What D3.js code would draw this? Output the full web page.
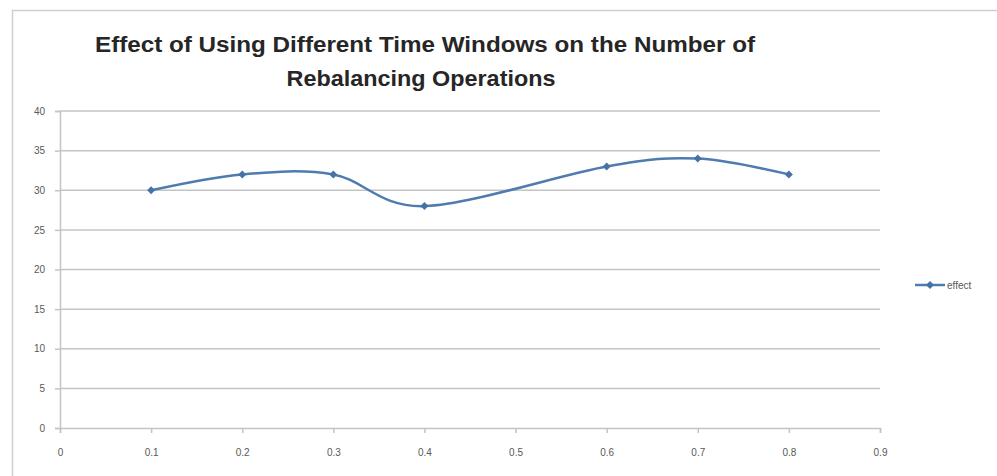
<!DOCTYPE html>
<html>
<head>
<meta charset="utf-8">
<script src="https://cdn.jsdelivr.net/npm/d3@7"></script>
<style>
  html, body { margin: 0; padding: 0; background: #fff; }
  svg { display: block; }
</style>
</head>
<body>
<svg id="chart" width="997" height="476"></svg>
<script>
// Time window (x) and number of rebalancing operations (y)
const windows = [0.1, 0.2, 0.3, 0.4, 0.6, 0.7, 0.8];
const operations = [30, 32, 32, 28, 33, 34, 32];
const seriesName = "effect";
const xTicks = [0, 0.1, 0.2, 0.3, 0.4, 0.5, 0.6, 0.7, 0.8, 0.9];
const yTicks = [0, 5, 10, 15, 20, 25, 30, 35, 40];
const titleLines = ["Effect of Using Different Time Windows on the Number of", "Rebalancing Operations"];

const svg = d3.select("#chart");
const W = 997, H = 476;
const plot = { left: 60, right: 880, top: 111, bottom: 428 };

const lineColor = "#4f7bae";
const markerColor = "#4672a6";
const gridColor = "#c4c4c4";
const labelColor = "#595959";
const labelFont = "'Liberation Sans Narrow', 'Liberation Sans', Arial, sans-serif";

// Chart frame
svg.append("rect")
  .attr("x", 12.5).attr("y", 10.5)
  .attr("width", W + 20).attr("height", H + 20)
  .attr("fill", "#fff").attr("stroke", "#d0d0d0").attr("stroke-width", 1.5);

const x = d3.scaleLinear().domain([0, 0.9]).range([plot.left, plot.right]);
const y = d3.scaleLinear().domain([0, 40]).range([plot.bottom, plot.top]);

// Horizontal gridlines
svg.append("g")
  .selectAll("line")
  .data(yTicks.filter(d => d > 0))
  .join("line")
  .attr("x1", plot.left).attr("x2", plot.right)
  .attr("y1", d => y(d)).attr("y2", d => y(d))
  .attr("stroke", gridColor).attr("stroke-width", 1.5);

// Y axis
const yAxis = svg.append("g")
  .attr("transform", `translate(${plot.left},0)`)
  .call(d3.axisLeft(y).tickValues(yTicks).tickSize(5).tickPadding(10).tickFormat(d3.format("d")));
yAxis.select(".domain").attr("stroke", gridColor).attr("stroke-width", 1.5);
yAxis.selectAll(".tick line").attr("stroke", gridColor).attr("stroke-width", 1.5);
yAxis.selectAll(".tick text")
  .attr("fill", labelColor)
  .style("font-family", labelFont)
  .style("font-size", "10px");

// X axis
const xAxis = svg.append("g")
  .attr("transform", `translate(0,${plot.bottom})`)
  .call(d3.axisBottom(x).tickValues(xTicks).tickSize(5).tickPadding(16).tickFormat(d => String(d)));
xAxis.select(".domain").attr("stroke", gridColor).attr("stroke-width", 1.5);
xAxis.selectAll(".tick line").attr("stroke", gridColor).attr("stroke-width", 1.5);
xAxis.selectAll(".tick text")
  .attr("fill", labelColor)
  .style("font-family", labelFont)
  .style("font-size", "10px");

// Smoothed series line
const pts = windows.map((w, i) => [w, operations[i]]);
svg.append("path")
  .datum(pts)
  .attr("d", d3.line().x(d => x(d[0])).y(d => y(d[1])).curve(d3.curveCardinal.tension(0)))
  .attr("fill", "none")
  .attr("stroke", lineColor)
  .attr("stroke-width", 2.5)
  .attr("stroke-linecap", "round");

// Diamond markers (square turned 45 degrees)
const diamondPath = "M0,-4L4,0L0,4L-4,0Z";
svg.append("g")
  .selectAll("path")
  .data(pts)
  .join("path")
  .attr("transform", d => `translate(${x(d[0])},${y(d[1])})`)
  .attr("d", diamondPath)
  .attr("fill", markerColor);

// Legend
const legend = svg.append("g").attr("transform", "translate(915,285)");
legend.append("line")
  .attr("x1", 0).attr("x2", 30).attr("y1", 0).attr("y2", 0)
  .attr("stroke", lineColor).attr("stroke-width", 2.5);
legend.append("path")
  .attr("transform", "translate(15,0)")
  .attr("d", diamondPath)
  .attr("fill", markerColor);
legend.append("text")
  .attr("x", 32).attr("y", 3.5)
  .attr("fill", labelColor)
  .style("font-family", labelFont)
  .style("font-size", "10px")
  .text(seriesName);

// Title
const title = svg.append("g")
  .style("font-family", "'Liberation Sans Narrow', 'Liberation Sans', Arial, sans-serif")
  .style("font-weight", "bold")
  .style("font-size", "22px")
  .attr("fill", "#262626");
title.append("text")
  .attr("x", 425).attr("y", 51.5)
  .attr("text-anchor", "middle")
  .attr("textLength", 660).attr("lengthAdjust", "spacingAndGlyphs")
  .text(titleLines[0]);
title.append("text")
  .attr("x", 421).attr("y", 86)
  .attr("text-anchor", "middle")
  .attr("textLength", 269).attr("lengthAdjust", "spacingAndGlyphs")
  .text(titleLines[1]);
</script>
</body>
</html>
